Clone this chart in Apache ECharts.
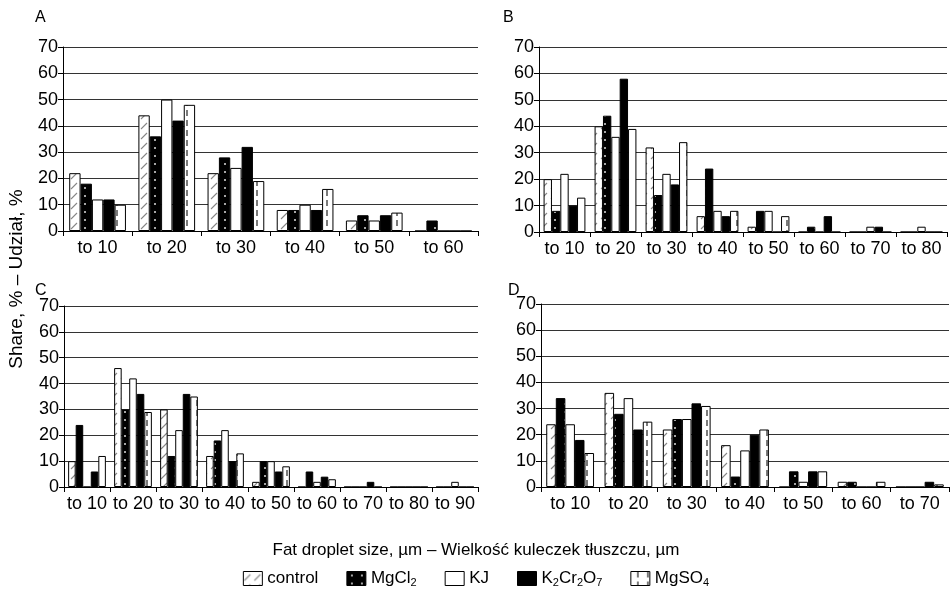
<!DOCTYPE html>
<html><head><meta charset="utf-8">
<script src="https://cdn.jsdelivr.net/npm/echarts@6/dist/echarts.min.js"></script>
<style>html,body{margin:0;padding:0;background:#fff}#c{width:952px;height:592px}</style>
</head><body><div id="c"></div>
<script>
// Categories
const catsA = ['to 10','to 20','to 30','to 40','to 50','to 60'];
const catsB = ['to 10','to 20','to 30','to 40','to 50','to 60','to 70','to 80'];
const catsC = ['to 10','to 20','to 30','to 40','to 50','to 60','to 70','to 80','to 90'];
const catsD = ['to 10','to 20','to 30','to 40','to 50','to 60','to 70'];
const seriesNames = ['control','MgCl2','KJ','K2Cr2O7','MgSO4'];
const yTicks = [0,10,20,30,40,50,60,70];

// Panel A
const A_control = [22,44,22,8,4,0];
const A_MgCl2   = [18,36,28,8,6,4];
const A_KJ      = [12,50,24,10,4,0];
const A_K2Cr2O7 = [12,42,32,8,6,0];
const A_MgSO4   = [10,48,19,16,7,0];
// Panel B
const B_control = [20,40,32,6,2,0,0,0];
const B_MgCl2   = [8,44,14,24,8,2,0,0];
const B_KJ      = [22,36,22,8,8,0,2,2];
const B_K2Cr2O7 = [10,58,18,6,0,6,2,0];
const B_MgSO4   = [13,39,34,8,6,0,0,0];
// Panel C
const C_control = [10,46,30,12,2,0,0,0,0];
const C_MgCl2   = [24,30,12,18,10,6,0,0,0];
const C_KJ      = [0,42,22,22,10,2,0,0,2];
const C_K2Cr2O7 = [6,36,36,10,6,4,2,0,0];
const C_MgSO4   = [12,29,35,13,8,3,0,0,0];
// Panel D
const D_control = [24,36,22,16,0,2,0];
const D_MgCl2   = [34,28,26,4,6,2,0];
const D_KJ      = [24,34,26,14,2,0,0];
const D_K2Cr2O7 = [18,22,32,20,6,0,2];
const D_MgSO4   = [13,25,31,22,6,2,1];

function mk(w,h,draw){const c=document.createElement('canvas');c.width=w;c.height=h;const g=c.getContext('2d');draw(g);return {image:c,repeat:'repeat'};}
const patHatch = mk(10,10,g=>{g.fillStyle='#fff';g.fillRect(0,0,10,10);g.strokeStyle='#888';g.lineWidth=1.1;g.beginPath();g.moveTo(1,9);g.lineTo(7,3);g.stroke();});
const patDots = mk(10,8,g=>{g.fillStyle='#000';g.fillRect(0,0,10,8);g.fillStyle='#ddd';g.beginPath();g.arc(5,4,1,0,Math.PI*2);g.fill();});
const patDash = mk(10,10,g=>{g.fillStyle='#fff';g.fillRect(0,0,10,10);g.strokeStyle='#222';g.lineWidth=1.2;g.beginPath();g.moveTo(7,0);g.lineTo(7,6);g.stroke();});
const colors = [patHatch, patDots, '#fff', '#000', patDash];

const panels = [
  {cats:catsA, data:[A_control,A_MgCl2,A_KJ,A_K2Cr2O7,A_MgSO4], grid:{left:63,top:47,width:415,height:184}},
  {cats:catsB, data:[B_control,B_MgCl2,B_KJ,B_K2Cr2O7,B_MgSO4], grid:{left:539,top:47,width:408,height:185}},
  {cats:catsC, data:[C_control,C_MgCl2,C_KJ,C_K2Cr2O7,C_MgSO4], grid:{left:64,top:306,width:414,height:181}},
  {cats:catsD, data:[D_control,D_MgCl2,D_KJ,D_K2Cr2O7,D_MgSO4], grid:{left:541,top:304,width:408,height:183}}
];
const font = 'Liberation Sans, Arial, sans-serif';
const grids=[],xAxes=[],yAxes=[],series=[];
panels.forEach((p,i)=>{
  grids.push(p.grid);
  xAxes.push({type:'category',gridIndex:i,data:p.cats,
    axisLine:{lineStyle:{color:'#000',width:1}},
    axisTick:{show:true,length:5,lineStyle:{color:'#000'}},
    axisLabel:{interval:0,color:'#000',fontSize:18,fontFamily:font,margin:8}});
  yAxes.push({type:'value',gridIndex:i,min:yTicks[0],max:yTicks[yTicks.length-1],interval:10,
    axisLine:{show:true,lineStyle:{color:'#000'}},
    axisTick:{show:true,length:5,lineStyle:{color:'#000'}},
    splitLine:{lineStyle:{color:'#333',width:1}},
    axisLabel:{color:'#000',fontSize:18,fontFamily:font,margin:5}});
  p.data.forEach((d,k)=>{
    series.push({type:'bar',name:seriesNames[k],xAxisIndex:i,yAxisIndex:i,data:d,
      barGap:'0%',barCategoryGap:'18%',
      itemStyle:{color:colors[k],borderColor:'#000',borderWidth:1},
      emphasis:{disabled:true},animation:false});
  });
});
function sub(name){
  const map={'MgCl2':'{t|MgCl}{s|2}','K2Cr2O7':'{t|K}{s|2}{t|Cr}{s|2}{t|O}{s|7}','MgSO4':'{t|MgSO}{s|4}'};
  return map[name]||('{t|'+name+'}');
}
const chart = echarts.init(document.getElementById('c'),null,{renderer:'canvas'});
chart.setOption({
  backgroundColor:'#fff',
  animation:false,
  grid:grids, xAxis:xAxes, yAxis:yAxes, series:series,
  legend:{top:565,left:'center',icon:'rect',itemWidth:19,itemHeight:14,itemGap:28,
    data:seriesNames,
    formatter:sub,
    itemStyle:{borderWidth:1,borderColor:'#000'},
    textStyle:{color:'#000',fontFamily:font,fontSize:17,
      rich:{t:{fontSize:17,fontFamily:font,color:'#000'},s:{fontSize:11,fontFamily:font,color:'#000',verticalAlign:'bottom',padding:[8,0,0,0]}}}},
  graphic:[
    {type:'text',left:35,top:10,style:{text:'A',font:'16px '+font,fill:'#000'}},
    {type:'text',left:503,top:10,style:{text:'B',font:'16px '+font,fill:'#000'}},
    {type:'text',left:35,top:283,style:{text:'C',font:'16px '+font,fill:'#000'}},
    {type:'text',left:508,top:283,style:{text:'D',font:'16px '+font,fill:'#000'}},
    {type:'text',x:17,y:279,rotation:Math.PI/2,style:{text:'Share, % – Udział, %',font:'19px '+font,fill:'#000',align:'center',verticalAlign:'middle'}},
    {type:'text',x:476,y:550,style:{text:'Fat droplet size, µm – Wielkość kuleczek tłuszczu, µm',font:'17px '+font,fill:'#000',align:'center',verticalAlign:'middle'}}
  ]
});
</script></body></html>
